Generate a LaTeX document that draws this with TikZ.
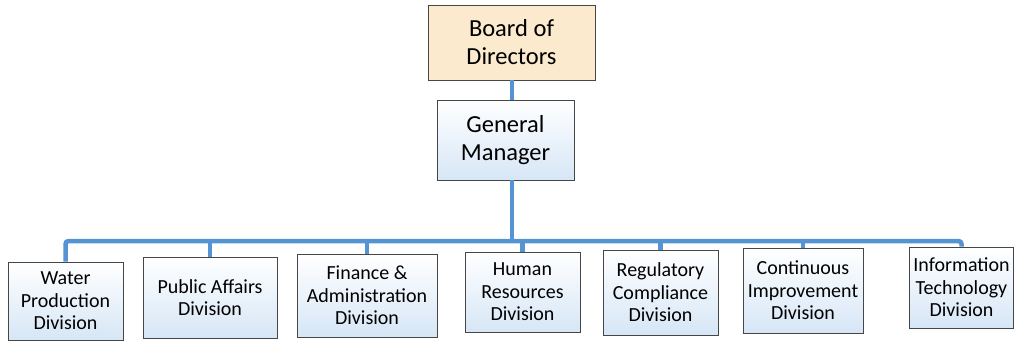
\documentclass[tikz,border=0pt]{standalone}
\usepackage{fontspec}
\setmainfont{Carlito}
\usepackage{tikz}
\usetikzlibrary{positioning}
\definecolor{OrgBlue}{RGB}{84,148,210}
\definecolor{OrgTan}{RGB}{251,234,206}
\definecolor{OrgSky}{RGB}{214,230,246}
\definecolor{OrgEdge}{RGB}{70,70,70}

\begin{document}
\begin{tikzpicture}[x=1pt, y=-1pt,
          topbox/.style={rectangle, draw=OrgEdge, line width=0.8pt, align=center,
                         inner sep=0pt, font=\fontsize{24.5}{28}\selectfont},
          divbox/.style={rectangle, draw=OrgEdge, line width=0.8pt, align=center,
                         inner sep=0pt, top color=white, bottom color=OrgSky,
                         font=\fontsize{20}{22.5}\selectfont},
          link/.style={draw=OrgBlue, line width=4.5pt}
        ]
        \useasboundingbox (0,0) rectangle (1015,341);

        \node[topbox, fill=OrgTan, minimum width=167pt, minimum height=75pt]
              (board) at (511.5, 42.5) {Board of\\Directors};
        \node[topbox, top color=white, bottom color=OrgSky,
              minimum width=137pt, minimum height=80pt]
              (gm) at (505.5, 140) {General\\Manager};

        % divisions
        \node[divbox, minimum width=115pt, minimum height=78pt]
              (water) at (65.5, 301) {Water\\Production\\Division};
        \node[divbox, minimum width=134pt, minimum height=81pt]
              (pubaff) at (210, 297.5) {Public Affairs\\Division};
        \node[divbox, minimum width=140pt, minimum height=83pt]
              (finance) at (367, 295.5) {Finance \&\\Administration\\Division};
        \node[divbox, minimum width=115pt, minimum height=80pt]
              (hr) at (522.5, 292) {Human\\Resources\\Division};
        \node[divbox, minimum width=115pt, minimum height=85pt]
              (reg) at (660.5, 292.5) {Regulatory\\Compliance\\Division};
        \node[divbox, minimum width=120pt, minimum height=85pt]
              (contimp) at (803, 290.5) {Continuous\\Improvement\\Division};
        \node[divbox, minimum width=104pt, minimum height=81pt]
              (infotech) at (961.5, 287.5) {Information\\Technology\\Division};

        \coordinate (bus) at (512, 241);

        \draw[link] (board.south -| bus) -- (gm.north -| bus);
        \draw[link] (gm.south -| bus) -- (bus);
        \draw[link, rounded corners=3pt] (water.north) |- (bus) -| (infotech.north);
        \foreach \d in {pubaff, finance, hr, reg, contimp}
          \draw[link] (\d.north |- bus) -- (\d.north);
      \end{tikzpicture}
\end{document}
